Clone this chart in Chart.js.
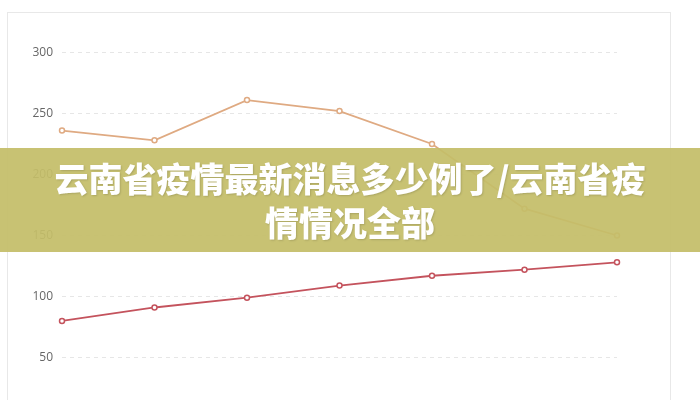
<!DOCTYPE html>
<html>
<head>
<meta charset="utf-8">
<script src="https://cdn.jsdelivr.net/npm/chart.js@4.4.0/dist/chart.umd.min.js"></script>
<style>
    html, body { margin: 0; padding: 0; width: 700px; height: 400px; overflow: hidden; background: #fff; }
    .box { position: absolute; left: 7px; top: 12px; width: 662px; height: 440px; border: 1px solid #e8e8e8; }
    .box canvas { display: block; }
    .banner {
        position: absolute; left: 0; top: 148px; width: 700px; height: 104px;
        background: rgba(196, 189, 104, 0.93);
        box-sizing: border-box; padding-top: 8px;
        text-align: center; color: #fff;
        font-family: "Noto Sans CJK SC", sans-serif; font-weight: 900;
        font-size: 34px; line-height: 44px;
        text-shadow: 1px 1px 2px rgba(0, 0, 0, 0.15);
    }
    .banner div { height: 44px; white-space: nowrap; }
</style>
</head>
<body>
<div class="box"><canvas id="trendChart" width="662" height="438"></canvas></div>
<div class="banner"><div>云南省疫情最新消息多少例了/云南省疫</div><div>情情况全部</div></div>
<script>
// data
var labels = ['1', '2', '3', '4', '5', '6', '7'];
var upperSeries = [236, 228, 261, 252, 225, 172, 150];
var lowerSeries = [80, 91, 99, 109, 117, 122, 128];
var yTicks = [0, 50, 100, 150, 200, 250, 300];

var ctx = document.getElementById('trendChart').getContext('2d');
var trendChart = new Chart(ctx, {
    type: 'line',
    data: {
        labels: labels,
        datasets: [{
            data: upperSeries,
            borderColor: '#dfaa82',
            backgroundColor: '#fff',
            borderWidth: 1.8,
            pointRadius: 2.5,
            pointBorderWidth: 1.5,
            tension: 0
        }, {
            data: lowerSeries,
            borderColor: '#c4535d',
            backgroundColor: '#fff',
            borderWidth: 1.8,
            pointRadius: 2.5,
            pointBorderWidth: 1.5,
            tension: 0
        }]
    },
    options: {
        responsive: false,
        animation: false,
        layout: { padding: { top: 39.5, right: 53, bottom: 32.5, left: 0 } },
        scales: {
            x: { display: false },
            y: {
                min: yTicks[0],
                max: yTicks[yTicks.length - 1],
                afterBuildTicks: function (scale) {
                    scale.ticks = yTicks.map(function (v) { return { value: v }; });
                },
                afterFit: function (scale) { scale.width = 54; },
                border: { display: false, dash: [4, 4] },
                grid: { color: '#e6e6e6', drawTicks: false },
                ticks: { padding: 9, color: '#666', font: { family: 'Open Sans', size: 12 } }
            }
        },
        plugins: {
            legend: { display: false },
            tooltip: { enabled: false }
        }
    }
});
</script>
</body>
</html>
